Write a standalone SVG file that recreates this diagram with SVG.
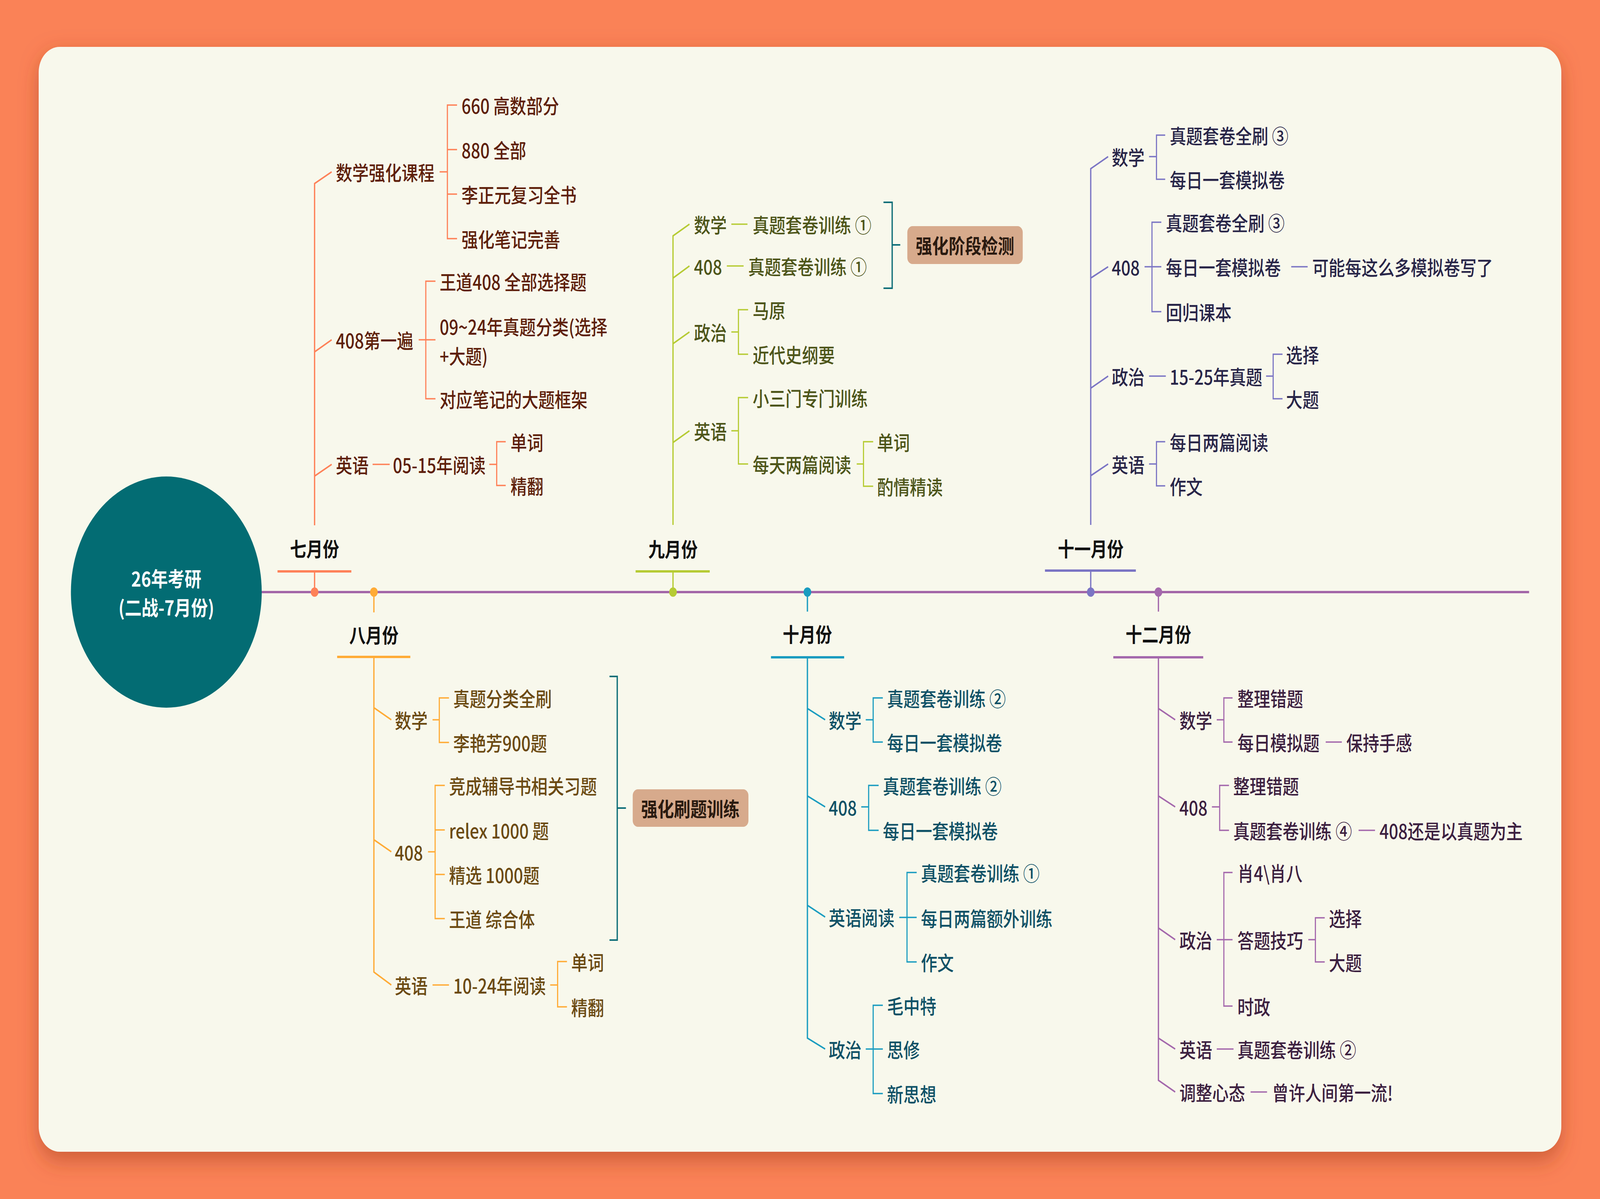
<svg xmlns="http://www.w3.org/2000/svg" width="4964" height="3070" viewBox="0 0 4964 3070" preserveAspectRatio="none">
<defs>
<filter id="sh" x="-10%" y="-10%" width="120%" height="125%">
<feDropShadow dx="0" dy="22" stdDeviation="28" flood-color="#A8401A" flood-opacity="0.55"/>
</filter>
<style>
svg{width:100vw;height:100vh}
text{font-family:"Noto Sans CJK SC","Noto Sans",sans-serif;font-size:51px;font-weight:500;dominant-baseline:central}
.m{font-weight:bold;fill:#111;text-anchor:middle}
.c{font-weight:bold;fill:#fff;text-anchor:middle;font-size:52px}
.b{font-weight:bold;fill:#2A1A10;text-anchor:middle}
.jul{fill:#5E1F0A}.aug{fill:#6B4A12}.sep{fill:#4D5519}.oct{fill:#0F5166}.nov{fill:#282548}.dec{fill:#3C2040}
.l{fill:none;stroke-width:4;stroke-linejoin:miter}
.s{fill:none;stroke-width:3.5}
.cjul{stroke:#FE8158}.caug{stroke:#FFAB36}.csep{stroke:#B6CB34}.coct{stroke:#1A9CC0}.cnov{stroke:#7B75C4}.cdec{stroke:#A468AC}
.sum{fill:none;stroke:#0E6E78;stroke-width:4}
.u{stroke-width:6}
</style>
</defs>
<rect x="0" y="0" width="4964" height="3070" fill="#FA8257"/>
<rect x="120" y="120" width="4724" height="2829" rx="65" fill="#F8F8EC" filter="url(#sh)"/>

<g id="connectors">
<line x1="812" y1="1516" x2="4744" y2="1516" stroke="#A366A8" stroke-width="6"/>
<g class="cjul">
<path class="l" d="M976,1463V1516"/>
<path class="l u" d="M861,1463H1090"/>
<path class="l" d="M976,1345V470L1029,440M976,901L1029,870M976,1219L1029,1189"/>
<path class="s" d="M1364,440H1388M1418,269H1388V611H1418M1388,383H1418M1388,497H1418"/>
<path class="s" d="M1299,870H1351M1351,720H1321V1021H1351"/>
<path class="s" d="M1156,1189H1209M1518,1189H1541M1569,1131H1541V1243H1569"/>
</g>
<g class="caug">
<path class="l" d="M1160,1516V1568"/>
<path class="l u" d="M1046,1682H1273"/>
<path class="l" d="M1160,1682V2489L1214,2522M1160,1812L1214,1843M1160,2150L1214,2181"/>
<path class="s" d="M1342,1843H1363M1393,1787H1363V1901H1393"/>
<path class="s" d="M1328,2181H1350M1380,2011H1350V2352H1380M1350,2125H1380M1350,2239H1380"/>
<path class="s" d="M1342,2522H1393M1707,2522H1730M1759,2462H1730V2578H1759"/>
</g>
<path class="sum" d="M1891,1732H1915V2407H1891M1915,2069H1942"/>
<g class="csep">
<path class="l" d="M2088,1463V1516"/>
<path class="l u" d="M1972,1463H2202"/>
<path class="l" d="M2088,1344V604L2139,574M2088,712L2139,681M2088,880L2139,850M2088,1133L2139,1103"/>
<path class="s" d="M2269,574H2319M2255,681H2307"/>
<path class="s" d="M2269,850H2291M2321,793H2291V907H2321"/>
<path class="s" d="M2269,1103H2291M2321,1018H2291V1188H2321M2658,1188H2679M2709,1131H2679V1245H2709"/>
</g>
<path class="sum" d="M2741,518H2768V738H2741M2768,627H2793"/>
<g class="coct">
<path class="l" d="M2505,1516V1566"/>
<path class="l u" d="M2392,1683H2619"/>
<path class="l" d="M2505,1683V2658L2560,2686M2505,1814L2560,1843M2505,2038L2560,2066M2505,2318L2560,2348"/>
<path class="s" d="M2686,1843H2709M2739,1787H2709V1900H2739"/>
<path class="s" d="M2672,2066H2695M2726,2011H2695V2126H2726"/>
<path class="s" d="M2790,2349H2844M2844,2234H2814V2463H2844"/>
<path class="s" d="M2686,2686H2739M2739,2574H2709V2800H2739"/>
</g>
<g class="cnov">
<path class="l" d="M3384,1461V1516"/>
<path class="l u" d="M3242,1461H3524"/>
<path class="l" d="M3384,1344V432L3438,401M3384,712L3438,683M3384,994L3438,963M3384,1218L3438,1188"/>
<path class="s" d="M3565,401H3588M3615,346H3588V459H3615"/>
<path class="s" d="M3551,683H3603M3603,569H3574V798H3603M4006,683H4057"/>
<path class="s" d="M3565,963H3617M3928,963H3950M3979,907H3950V1021H3979"/>
<path class="s" d="M3565,1188H3588M3615,1131H3588V1244H3615"/>
</g>
<g class="cdec">
<path class="l" d="M3594,1516V1566"/>
<path class="l u" d="M3454,1683H3733"/>
<path class="l" d="M3594,1683V2766L3646,2796M3594,1814L3646,1843M3594,2038L3646,2066M3594,2376L3646,2406M3594,2658L3646,2686"/>
<path class="s" d="M3775,1843H3797M3824,1787H3797V1900H3824M4113,1900H4163"/>
<path class="s" d="M3760,2066H3784M3813,2011H3784V2126H3813M4215,2126H4266"/>
<path class="s" d="M3775,2406H3824M3824,2234H3797V2576H3824M4059,2406H4081M4110,2350H4081V2463H4110"/>
<path class="s" d="M3775,2686H3827M3880,2796H3931"/>
</g>
</g>

<g id="dots">
<circle cx="976" cy="1516" r="12" fill="#FE8158"/>
<circle cx="1160" cy="1516" r="12" fill="#FFAB36"/>
<circle cx="2088" cy="1516" r="12" fill="#B6CB34"/>
<circle cx="2505" cy="1516" r="12" fill="#1A9CC0"/>
<circle cx="3384" cy="1516" r="12" fill="#7B75C4"/>
<circle cx="3594" cy="1516" r="12" fill="#A468AC"/>
</g>

<g id="root">
<circle cx="516" cy="1516" r="296" fill="#036C73"/>
<text class="c" x="516" y="1480">26年考研</text>
<text class="c" x="516" y="1554">(二战-7月份)</text>
</g>

<g id="jul">
<g id="jul-label"><text class="m" x="976" y="1403">七月份</text></g>
<g id="jul-math"><text class="jul" x="1042" y="440">数学强化课程</text></g>
<g id="jul-math-1"><text class="jul" x="1432" y="269">660 高数部分</text></g>
<g id="jul-math-2"><text class="jul" x="1432" y="383">880 全部</text></g>
<g id="jul-math-3"><text class="jul" x="1432" y="497">李正元复习全书</text></g>
<g id="jul-math-4"><text class="jul" x="1432" y="611">强化笔记完善</text></g>
<g id="jul-408"><text class="jul" x="1042" y="870">408第一遍</text></g>
<g id="jul-408-1"><text class="jul" x="1364" y="720">王道408 全部选择题</text></g>
<g id="jul-408-2"><text class="jul" x="1364" y="835">09~24年真题分类(选择</text><text class="jul" x="1364" y="910">+大题)</text></g>
<g id="jul-408-3"><text class="jul" x="1364" y="1021">对应笔记的大题框架</text></g>
<g id="jul-eng"><text class="jul" x="1042" y="1189">英语</text></g>
<g id="jul-eng-1"><text class="jul" x="1219" y="1189">05-15年阅读</text></g>
<g id="jul-eng-1a"><text class="jul" x="1584" y="1131">单词</text></g>
<g id="jul-eng-1b"><text class="jul" x="1584" y="1243">精翻</text></g>
</g>

<g id="aug">
<g id="aug-label"><text class="m" x="1160" y="1624">八月份</text></g>
<g id="aug-math"><text class="aug" x="1225" y="1843">数学</text></g>
<g id="aug-math-1"><text class="aug" x="1406" y="1787">真题分类全刷</text></g>
<g id="aug-math-2"><text class="aug" x="1406" y="1901">李艳芳900题</text></g>
<g id="aug-408"><text class="aug" x="1225" y="2181">408</text></g>
<g id="aug-408-1"><text class="aug" x="1393" y="2011">竞成辅导书相关习题</text></g>
<g id="aug-408-2"><text class="aug" x="1393" y="2125">relex 1000 题</text></g>
<g id="aug-408-3"><text class="aug" x="1393" y="2239">精选 1000题</text></g>
<g id="aug-408-4"><text class="aug" x="1393" y="2352">王道 综合体</text></g>
<g id="aug-eng"><text class="aug" x="1225" y="2522">英语</text></g>
<g id="aug-eng-1"><text class="aug" x="1406" y="2522">10-24年阅读</text></g>
<g id="aug-eng-1a"><text class="aug" x="1772" y="2462">单词</text></g>
<g id="aug-eng-1b"><text class="aug" x="1772" y="2578">精翻</text></g>
<g id="aug-summary"><rect x="1963" y="2021" width="359" height="96" rx="16" fill="#D7AA8C"/><text class="b" x="2142" y="2069">强化刷题训练</text></g>
</g>

<g id="sep">
<g id="sep-label"><text class="m" x="2088" y="1404">九月份</text></g>
<g id="sep-math"><text class="sep" x="2153" y="574">数学</text></g>
<g id="sep-math-1"><text class="sep" x="2335" y="574">真题套卷训练 ①</text></g>
<g id="sep-408"><text class="sep" x="2153" y="681">408</text></g>
<g id="sep-408-1"><text class="sep" x="2321" y="681">真题套卷训练 ①</text></g>
<g id="sep-pol"><text class="sep" x="2153" y="850">政治</text></g>
<g id="sep-pol-1"><text class="sep" x="2335" y="793">马原</text></g>
<g id="sep-pol-2"><text class="sep" x="2335" y="907">近代史纲要</text></g>
<g id="sep-eng"><text class="sep" x="2153" y="1103">英语</text></g>
<g id="sep-eng-1"><text class="sep" x="2335" y="1018">小三门专门训练</text></g>
<g id="sep-eng-2"><text class="sep" x="2335" y="1188">每天两篇阅读</text></g>
<g id="sep-eng-2a"><text class="sep" x="2721" y="1131">单词</text></g>
<g id="sep-eng-2b"><text class="sep" x="2721" y="1245">酌情精读</text></g>
<g id="sep-summary"><rect x="2815" y="579" width="358" height="97" rx="16" fill="#D7AA8C"/><text class="b" x="2994" y="627">强化阶段检测</text></g>
</g>

<g id="oct">
<g id="oct-label"><text class="m" x="2505" y="1622">十月份</text></g>
<g id="oct-math"><text class="oct" x="2571" y="1843">数学</text></g>
<g id="oct-math-1"><text class="oct" x="2752" y="1787">真题套卷训练 ②</text></g>
<g id="oct-math-2"><text class="oct" x="2752" y="1900">每日一套模拟卷</text></g>
<g id="oct-408"><text class="oct" x="2571" y="2066">408</text></g>
<g id="oct-408-1"><text class="oct" x="2739" y="2011">真题套卷训练 ②</text></g>
<g id="oct-408-2"><text class="oct" x="2739" y="2126">每日一套模拟卷</text></g>
<g id="oct-eng"><text class="oct" x="2571" y="2348">英语阅读</text></g>
<g id="oct-eng-1"><text class="oct" x="2857" y="2234">真题套卷训练 ①</text></g>
<g id="oct-eng-2"><text class="oct" x="2857" y="2350">每日两篇额外训练</text></g>
<g id="oct-eng-3"><text class="oct" x="2857" y="2463">作文</text></g>
<g id="oct-pol"><text class="oct" x="2571" y="2686">政治</text></g>
<g id="oct-pol-1"><text class="oct" x="2752" y="2574">毛中特</text></g>
<g id="oct-pol-2"><text class="oct" x="2752" y="2686">思修</text></g>
<g id="oct-pol-3"><text class="oct" x="2752" y="2800">新思想</text></g>
</g>

<g id="nov">
<g id="nov-label"><text class="m" x="3384" y="1403">十一月份</text></g>
<g id="nov-math"><text class="nov" x="3449" y="401">数学</text></g>
<g id="nov-math-1"><text class="nov" x="3629" y="346">真题套卷全刷 ③</text></g>
<g id="nov-math-2"><text class="nov" x="3629" y="459">每日一套模拟卷</text></g>
<g id="nov-408"><text class="nov" x="3449" y="683">408</text></g>
<g id="nov-408-1"><text class="nov" x="3617" y="569">真题套卷全刷 ③</text></g>
<g id="nov-408-2"><text class="nov" x="3617" y="683">每日一套模拟卷</text></g>
<g id="nov-408-2a"><text class="nov" x="4071" y="683">可能每这么多模拟卷写了</text></g>
<g id="nov-408-3"><text class="nov" x="3617" y="798">回归课本</text></g>
<g id="nov-pol"><text class="nov" x="3449" y="963">政治</text></g>
<g id="nov-pol-1"><text class="nov" x="3629" y="963">15-25年真题</text></g>
<g id="nov-pol-1a"><text class="nov" x="3990" y="907">选择</text></g>
<g id="nov-pol-1b"><text class="nov" x="3990" y="1021">大题</text></g>
<g id="nov-eng"><text class="nov" x="3449" y="1188">英语</text></g>
<g id="nov-eng-1"><text class="nov" x="3629" y="1131">每日两篇阅读</text></g>
<g id="nov-eng-2"><text class="nov" x="3629" y="1244">作文</text></g>
</g>

<g id="dec">
<g id="dec-label"><text class="m" x="3594" y="1622">十二月份</text></g>
<g id="dec-math"><text class="dec" x="3659" y="1843">数学</text></g>
<g id="dec-math-1"><text class="dec" x="3839" y="1787">整理错题</text></g>
<g id="dec-math-2"><text class="dec" x="3839" y="1900">每日模拟题</text></g>
<g id="dec-math-2a"><text class="dec" x="4177" y="1900">保持手感</text></g>
<g id="dec-408"><text class="dec" x="3659" y="2066">408</text></g>
<g id="dec-408-1"><text class="dec" x="3826" y="2011">整理错题</text></g>
<g id="dec-408-2"><text class="dec" x="3826" y="2126">真题套卷训练 ④</text></g>
<g id="dec-408-2a"><text class="dec" x="4280" y="2126">408还是以真题为主</text></g>
<g id="dec-pol"><text class="dec" x="3659" y="2406">政治</text></g>
<g id="dec-pol-1"><text class="dec" x="3839" y="2234">肖4\肖八</text></g>
<g id="dec-pol-2"><text class="dec" x="3839" y="2406">答题技巧</text></g>
<g id="dec-pol-2a"><text class="dec" x="4123" y="2350">选择</text></g>
<g id="dec-pol-2b"><text class="dec" x="4123" y="2463">大题</text></g>
<g id="dec-pol-3"><text class="dec" x="3839" y="2576">时政</text></g>
<g id="dec-eng"><text class="dec" x="3659" y="2686">英语</text></g>
<g id="dec-eng-1"><text class="dec" x="3839" y="2686">真题套卷训练 ②</text></g>
<g id="dec-mind"><text class="dec" x="3659" y="2796">调整心态</text></g>
<g id="dec-mind-1"><text class="dec" x="3947" y="2796">曾许人间第一流!</text></g>
</g>
</svg>
